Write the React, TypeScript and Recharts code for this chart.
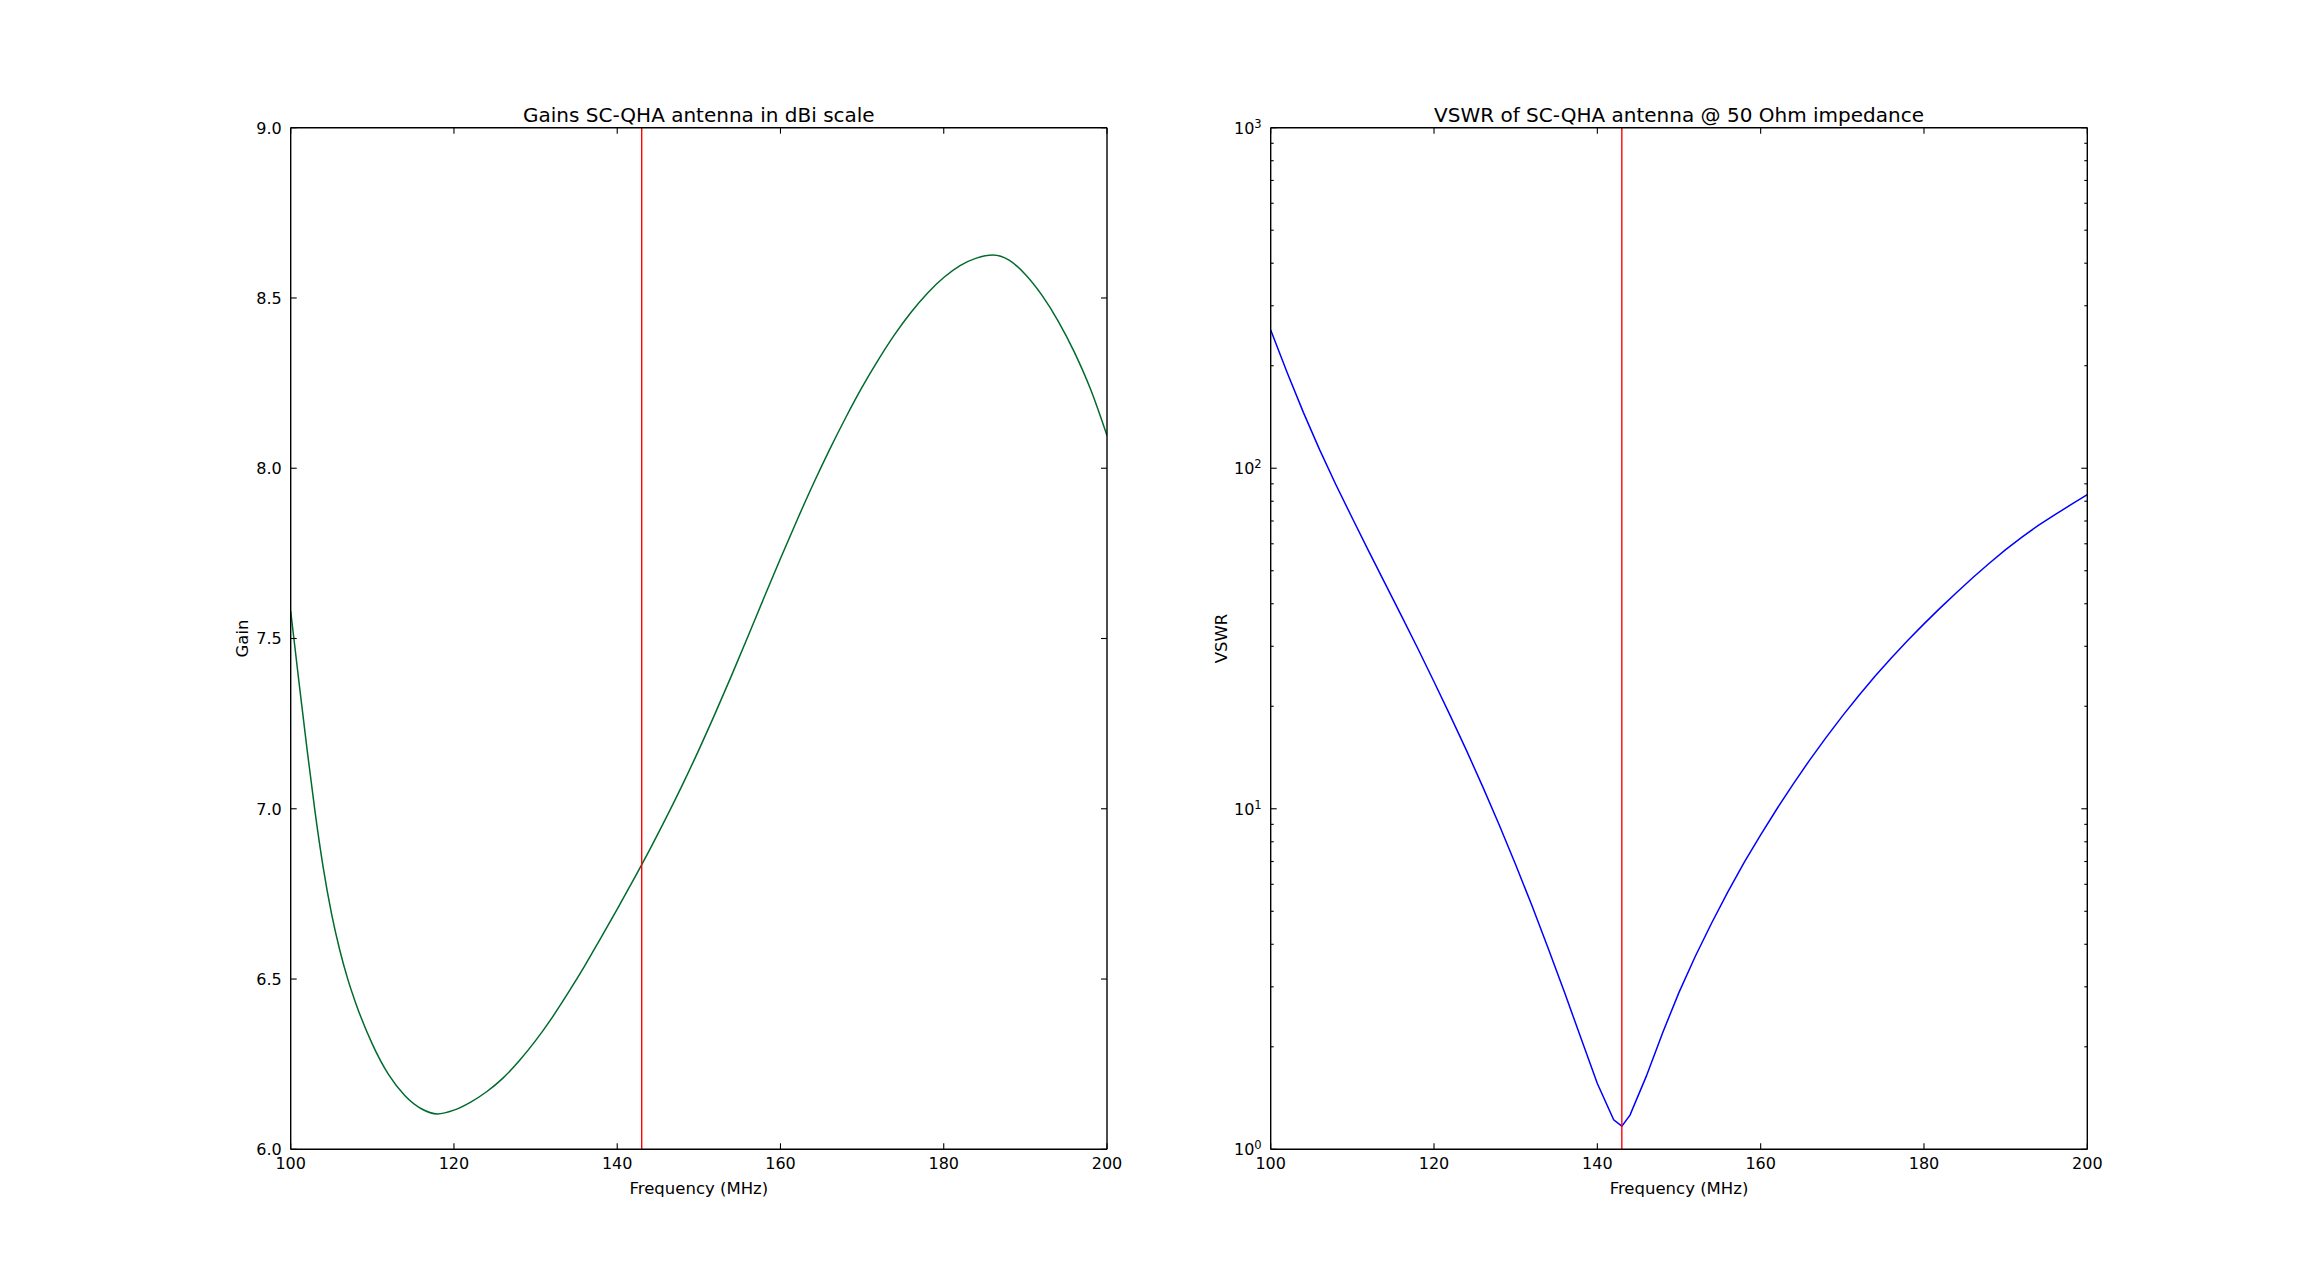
import React from "react";
import { Label, Line, LineChart, ReferenceLine, XAxis, YAxis } from "recharts";

const FONT = "'DejaVu Sans', sans-serif";

// frequency axis (MHz)
const freqTicks = [100, 120, 140, 160, 180, 200];
const markerFreq = 143;

// gain plot (dBi)
const gainFreqs = [
  100, 101, 102, 103, 104, 105, 106, 107, 108, 110, 112, 114, 116, 118, 120,
  122, 124, 126, 128, 130, 132, 134, 136, 138, 140, 142, 144, 146, 148, 150,
  152, 154, 156, 158, 160, 162, 164, 166, 168, 170, 172, 174, 176, 178, 180,
  182, 184, 186, 188, 190, 192, 194, 196, 198, 200,
];
const gainValues = [
  7.58, 7.375, 7.175, 6.988, 6.825, 6.692, 6.586, 6.499, 6.427, 6.309, 6.219,
  6.157, 6.119, 6.104, 6.115, 6.138, 6.169, 6.209, 6.26, 6.319, 6.386, 6.46,
  6.538, 6.621, 6.705, 6.792, 6.881, 6.974, 7.071, 7.173, 7.28, 7.391, 7.505,
  7.621, 7.735, 7.846, 7.953, 8.054, 8.149, 8.238, 8.319, 8.393, 8.458, 8.514,
  8.56, 8.595, 8.617, 8.626, 8.611, 8.569, 8.509, 8.433, 8.341, 8.231, 8.096,
];
const gainTicks = [6.0, 6.5, 7.0, 7.5, 8.0, 8.5, 9.0];

// VSWR plot (log scale)
const vswrFreqs = [
  100, 102, 104, 106, 108, 110, 112, 114, 116, 118, 120, 122, 124, 126, 128,
  130, 132, 134, 136, 138, 140, 142, 143, 144, 146, 148, 150, 152, 154, 156,
  158, 160, 162, 164, 166, 168, 170, 172, 174, 176, 178, 180, 182, 184, 186,
  188, 190, 192, 194, 196, 198, 200,
];
const vswrValues = [
  254.7, 191.4, 145.9, 113.2, 89.3, 71.3, 57.1, 45.9, 36.9, 29.6, 23.6, 18.75,
  14.79, 11.56, 8.95, 6.85, 5.19, 3.88, 2.88, 2.12, 1.56, 1.22, 1.17, 1.26,
  1.64, 2.2, 2.89, 3.69, 4.62, 5.71, 6.97, 8.38, 10.0, 11.83, 13.9, 16.18,
  18.71, 21.48, 24.49, 27.73, 31.19, 34.91, 38.9, 43.15, 47.75, 52.6, 57.7,
  62.8, 67.9, 72.9, 78.2, 83.6,
];
const vswrMajorTicks = [1, 10, 100, 1000];
const vswrMinorTicks = [
  2, 3, 4, 5, 6, 7, 8, 9, 20, 30, 40, 50, 60, 70, 80, 90, 200, 300, 400, 500,
  600, 700, 800, 900,
];

const gainData = gainFreqs.map((f, i) => ({ freq: f, gain: gainValues[i] }));
const vswrData = vswrFreqs.map((f, i) => ({ freq: f, vswr: vswrValues[i] }));
const vswrTicks = [...vswrMajorTicks, ...vswrMinorTicks].sort((a, b) => a - b);

const TICK_FONT = 16;
const LABEL_FONT = 16.5;
const TITLE_FONT = 20;

type Side = "left" | "right" | "top" | "bottom";

// matplotlib-classic style ticks: pointing inward, labels only on left/bottom
function makeTick(
  side: Side,
  format?: (v: number) => React.ReactNode,
  isMajor: (v: number) => boolean = () => true,
) {
  return (props: any) => {
    const { x, y, payload } = props;
    const v = payload.value as number;
    const len = isMajor(v) ? 6 : 3;
    let line;
    if (side === "left") line = <line x1={x} x2={x + len} y1={y} y2={y} />;
    else if (side === "right") line = <line x1={x} x2={x - len} y1={y} y2={y} />;
    else if (side === "top") line = <line x1={x} x2={x} y1={y} y2={y + len} />;
    else line = <line x1={x} x2={x} y1={y} y2={y - len} />;
    let label = null;
    if (format && isMajor(v)) {
      if (side === "left") {
        label = (
          <text x={x - 9} y={y + 5.8} textAnchor="end" fontSize={TICK_FONT} fontFamily={FONT} fill="#000">
            {format(v)}
          </text>
        );
      } else if (side === "bottom") {
        label = (
          <text x={x} y={y + 19.5} textAnchor="middle" fontSize={TICK_FONT} fontFamily={FONT} fill="#000">
            {format(v)}
          </text>
        );
      }
    }
    return (
      <g>
        <g stroke="#000" strokeWidth={1.1}>{line}</g>
        {label}
      </g>
    );
  };
}

const fmtFixed = (v: number) => v.toFixed(1);
const fmtInt = (v: number) => String(v);
const fmtPow = (v: number) => (
  <>
    <tspan>10</tspan>
    <tspan fontSize={TICK_FONT * 0.72} dy={-6}>
      {Math.round(Math.log10(v))}
    </tspan>
  </>
);
const isDecade = (v: number) => Math.abs(Math.log10(v) - Math.round(Math.log10(v))) < 1e-9;

function titleContent(text: string) {
  return (p: any) => {
    const vb = p.viewBox;
    return (
      <text
        x={vb.x + vb.width / 2}
        y={vb.y + vb.height - 6}
        textAnchor="middle"
        fontSize={TITLE_FONT}
        fontFamily={FONT}
        fill="#000"
      >
        {text}
      </text>
    );
  };
}

function xLabelContent(text: string) {
  return (p: any) => {
    const vb = p.viewBox;
    return (
      <text x={vb.x + vb.width / 2} y={vb.y + 44.7} textAnchor="middle" fontSize={LABEL_FONT} fontFamily={FONT} fill="#000">
        {text}
      </text>
    );
  };
}

function yLabelContent(text: string, gap: number) {
  return (p: any) => {
    const vb = p.viewBox;
    const bx = vb.x + vb.width - gap;
    const cy = vb.y + vb.height / 2;
    return (
      <text
        x={bx}
        y={cy}
        transform={`rotate(-90, ${bx}, ${cy})`}
        textAnchor="middle"
        fontSize={LABEL_FONT}
        fontFamily={FONT}
        fill="#000"
      >
        {text}
      </text>
    );
  };
}

const axisLine = { stroke: "#000", strokeWidth: 1.4 };

export default function App() {
  return (
    <div style={{ position: "absolute", left: 0, top: 0, width: 2318, height: 1277, background: "#fff" }}>
      <div style={{ position: "absolute", left: 0, top: 0 }}>
        <LineChart
          width={1160}
          height={1277}
          data={gainData}
          margin={{ top: 126.7, right: 52, bottom: 87.7, left: 230.7 }}
        >
          <XAxis
            xAxisId="bottom"
            dataKey="freq"
            type="number"
            domain={[100, 200]}
            ticks={freqTicks}
            interval={0}
            allowDataOverflow
            height={40}
            tickSize={0}
            tickMargin={0}
            tickLine={false}
            axisLine={axisLine}
            tick={makeTick("bottom", fmtInt)}
          >
            <Label content={xLabelContent("Frequency (MHz)")} />
          </XAxis>
          <XAxis
            xAxisId="top"
            orientation="top"
            dataKey="freq"
            type="number"
            domain={[100, 200]}
            ticks={freqTicks}
            interval={0}
            allowDataOverflow
            height={1}
            tickSize={0}
            tickMargin={0}
            tickLine={false}
            axisLine={axisLine}
            tick={makeTick("top")}
          >
            <Label content={titleContent("Gains SC-QHA antenna in dBi scale")} />
          </XAxis>
          <YAxis
            yAxisId="left"
            type="number"
            domain={[6, 9]}
            ticks={gainTicks}
            interval={0}
            allowDataOverflow
            width={60}
            tickSize={0}
            tickMargin={0}
            tickLine={false}
            axisLine={axisLine}
            tick={makeTick("left", fmtFixed)}
          >
            <Label content={yLabelContent("Gain", 42.4)} />
          </YAxis>
          <YAxis
            yAxisId="right"
            orientation="right"
            type="number"
            domain={[6, 9]}
            ticks={gainTicks}
            interval={0}
            allowDataOverflow
            width={1}
            tickSize={0}
            tickMargin={0}
            tickLine={false}
            axisLine={axisLine}
            tick={makeTick("right")}
          />
          <Line
            xAxisId="bottom"
            yAxisId="left"
            type="monotone"
            dataKey="gain"
            stroke="#006b2e"
            strokeWidth={1.5}
            dot={false}
            activeDot={false}
            isAnimationActive={false}
          />
          <ReferenceLine xAxisId="bottom" yAxisId="left" x={markerFreq} stroke="#ff0000" strokeWidth={1.4} />
        </LineChart>
      </div>
      <div style={{ position: "absolute", left: 1160, top: 0 }}>
        <LineChart
          width={1158}
          height={1277}
          data={vswrData}
          margin={{ top: 126.7, right: 229.7, bottom: 87.7, left: 50.7 }}
        >
          <XAxis
            xAxisId="bottom"
            dataKey="freq"
            type="number"
            domain={[100, 200]}
            ticks={freqTicks}
            interval={0}
            allowDataOverflow
            height={40}
            tickSize={0}
            tickMargin={0}
            tickLine={false}
            axisLine={axisLine}
            tick={makeTick("bottom", fmtInt)}
          >
            <Label content={xLabelContent("Frequency (MHz)")} />
          </XAxis>
          <XAxis
            xAxisId="top"
            orientation="top"
            dataKey="freq"
            type="number"
            domain={[100, 200]}
            ticks={freqTicks}
            interval={0}
            allowDataOverflow
            height={1}
            tickSize={0}
            tickMargin={0}
            tickLine={false}
            axisLine={axisLine}
            tick={makeTick("top")}
          >
            <Label content={titleContent("VSWR of SC-QHA antenna @ 50 Ohm impedance")} />
          </XAxis>
          <YAxis
            yAxisId="left"
            type="number"
            scale="log"
            domain={[1, 1000]}
            ticks={vswrTicks}
            interval={0}
            allowDataOverflow
            width={60}
            tickSize={0}
            tickMargin={0}
            tickLine={false}
            axisLine={axisLine}
            tick={makeTick("left", fmtPow, isDecade)}
          >
            <Label content={yLabelContent("VSWR", 44)} />
          </YAxis>
          <YAxis
            yAxisId="right"
            orientation="right"
            type="number"
            scale="log"
            domain={[1, 1000]}
            ticks={vswrTicks}
            interval={0}
            allowDataOverflow
            width={1}
            tickSize={0}
            tickMargin={0}
            tickLine={false}
            axisLine={axisLine}
            tick={makeTick("right", undefined, isDecade)}
          />
          <Line
            xAxisId="bottom"
            yAxisId="left"
            type="linear"
            dataKey="vswr"
            stroke="#0000ff"
            strokeWidth={1.5}
            dot={false}
            activeDot={false}
            isAnimationActive={false}
          />
          <ReferenceLine xAxisId="bottom" yAxisId="left" x={markerFreq} stroke="#ff0000" strokeWidth={1.4} />
        </LineChart>
      </div>
    </div>
  );
}
